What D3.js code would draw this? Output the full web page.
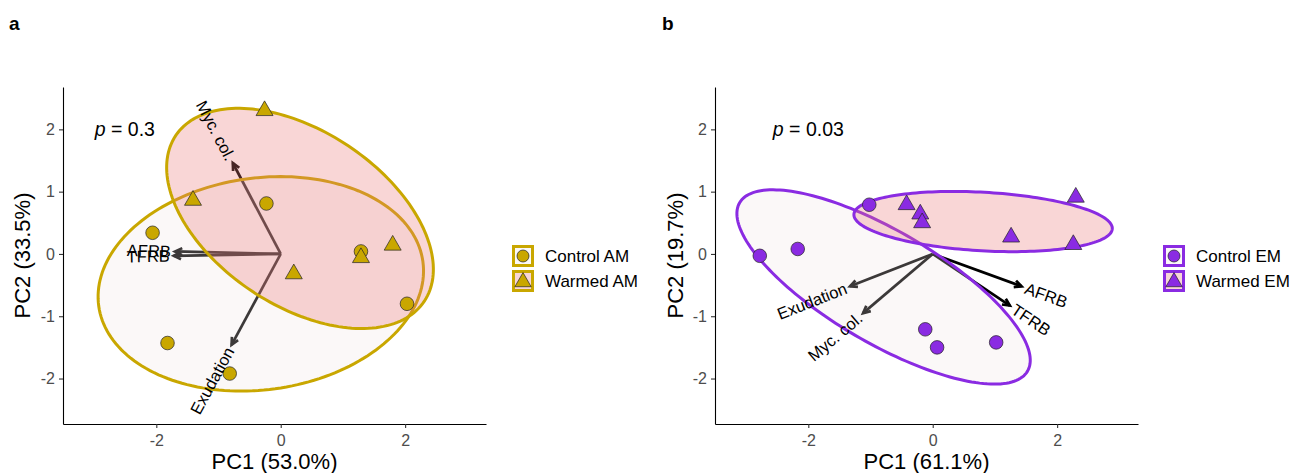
<!DOCTYPE html>
<html>
<head>
<meta charset="utf-8">
<script src="https://cdn.jsdelivr.net/npm/d3@7"></script>
<style>
  body { margin: 0; background: #fff; }
  svg { font-family: "Liberation Sans", Arial, sans-serif; }
</style>
</head>
<body>
<svg id="chart" width="1292" height="473"></svg>
<script>
// --- values ---
// panel a (AM)
var amControl = [[-2.06, 0.34], [-0.23, 0.81], [1.29, 0.04], [2.03, -0.80], [-1.82, -1.43], [-0.82, -1.92]];
var amWarmed = [[-0.26, 2.30], [-1.41, 0.86], [1.80, 0.14], [1.29, -0.06], [0.21, -0.32]];
var amLoadings = [
    {name: "Myc. col.", x: -0.77, y: 1.46},
    {name: "AFRB", x: -1.70, y: 0.04},
    {name: "TFRB", x: -1.72, y: -0.03},
    {name: "Exudation", x: -0.79, y: -1.46}
];
var amEllipses = [
    {group: "Control", cx: -0.32, cy: -0.48, rx: 2.63, ry: 1.70, angle: 7.8},
    {group: "Warmed", cx: 0.31, cy: 0.57, rx: 2.40, ry: 1.40, angle: -33.6}
];
var amLegend = ["Control AM", "Warmed AM"];

// panel b (EM)
var emControl = [[-1.02, 0.79], [-2.78, -0.03], [-2.17, 0.08], [-0.12, -1.21], [0.07, -1.50], [1.02, -1.42]];
var emWarmed = [[-0.42, 0.79], [-0.20, 0.64], [-0.17, 0.50], [1.26, 0.27], [2.30, 0.91], [2.26, 0.15]];
var emLoadings = [
    {name: "Exudation", x: -1.33, y: -0.52},
    {name: "Myc. col.", x: -1.12, y: -0.95},
    {name: "AFRB", x: 1.43, y: -0.52},
    {name: "TFRB", x: 1.24, y: -0.83}
];
var emEllipses = [
    {group: "Control", cx: -0.79, cy: -0.53, rx: 2.68, ry: 0.90, angle: -30.3},
    {group: "Warmed", cx: 0.81, cy: 0.52, rx: 2.08, ry: 0.47, angle: -3.2}
];
var emLegend = ["Control EM", "Warmed EM"];

var tickValues = [-2, 0, 2];
var yTickValues = [-2, -1, 0, 1, 2];
var xDomain = [-3.5, 3.3], yDomain = [-2.73, 2.68];

var panels = [
    {tag: "a", left: 63, right: 486, color: "#C9A700", control: amControl, warmed: amWarmed,
     loadings: amLoadings, ellipses: amEllipses, legend: amLegend, p: "0.3", pX: -2.99,
     xTitle: "PC1 (53.0%)", yTitle: "PC2 (33.5%)", tagX: 9, yTitleX: 30, legendX: 512},
    {tag: "b", left: 715, right: 1138, color: "#8A2BE2", control: emControl, warmed: emWarmed,
     loadings: emLoadings, ellipses: emEllipses, legend: emLegend, p: "0.03", pX: -2.57,
     xTitle: "PC1 (61.1%)", yTitle: "PC2 (19.7%)", tagX: 662, yTitleX: 683, legendX: 1163}
];

var plotTop = 87, plotBottom = 424;
var fills = {Control: {fill: "rgb(238,226,226)", op: 0.25, key: "#FBF8F8"},
             Warmed: {fill: "rgb(235,120,120)", op: 0.3, key: "#F7D6D6"}};
var svg = d3.select("#chart");

var ellipsePoints = function(e) {
    var a = e.angle * Math.PI / 180;
    return d3.range(0, 360, 2).map(function(d) {
        var t = d * Math.PI / 180;
        return [e.cx + e.rx * Math.cos(t) * Math.cos(a) - e.ry * Math.sin(t) * Math.sin(a),
                e.cy + e.rx * Math.cos(t) * Math.sin(a) + e.ry * Math.sin(t) * Math.cos(a)];
    });
};

panels.forEach(function(p) {
    var x = d3.scaleLinear().domain(xDomain).range([p.left, p.right]);
    var y = d3.scaleLinear().domain(yDomain).range([plotBottom, plotTop]);
    var g = svg.append("g");

    // loading arrows (black, later tinted by the ellipse fills)
    var arrows = g.append("g");
    p.loadings.forEach(function(d) {
        var x0 = x(0), y0 = y(0), x1 = x(d.x), y1 = y(d.y);
        var ang = Math.atan2(y1 - y0, x1 - x0), L = 8, w = 0.45;
        arrows.append("line")
            .attr("x1", x0).attr("y1", y0).attr("x2", x1).attr("y2", y1)
            .attr("stroke", "#000").attr("stroke-width", 2.7);
        arrows.append("path")
            .attr("d", "M" + (x1 - L * Math.cos(ang - w)) + "," + (y1 - L * Math.sin(ang - w)) +
                 "L" + x1 + "," + y1 +
                 "L" + (x1 - L * Math.cos(ang + w)) + "," + (y1 - L * Math.sin(ang + w)))
            .attr("fill", "none").attr("stroke", "#000").attr("stroke-width", 2.7)
            .attr("stroke-linejoin", "miter");
    });

    // ellipses
    var line = d3.line().x(function(d) { return x(d[0]); }).y(function(d) { return y(d[1]); })
        .curve(d3.curveLinearClosed);
    p.ellipses.forEach(function(e) {
        g.append("path")
            .attr("d", line(ellipsePoints(e)))
            .attr("fill", fills[e.group].fill).attr("fill-opacity", fills[e.group].op)
            .attr("stroke", p.color).attr("stroke-width", 3);
    });

    // points
    g.selectAll(".ctrl").data(p.control).enter().append("circle")
        .attr("cx", function(d) { return x(d[0]); })
        .attr("cy", function(d) { return y(d[1]); })
        .attr("r", 6.8)
        .attr("fill", p.color).attr("stroke", "#222").attr("stroke-width", 0.7);
    g.selectAll(".warm").data(p.warmed).enter().append("path")
        .attr("d", d3.symbol(d3.symbolTriangle, 125))
        .attr("transform", function(d) { return "translate(" + x(d[0]) + "," + y(d[1]) + ")"; })
        .attr("fill", p.color).attr("stroke", "#222").attr("stroke-width", 0.7);

    // loading labels
    p.loadings.forEach(function(d) {
        var rot = -Math.atan(d.y / d.x) * 180 / Math.PI;
        g.append("text")
            .attr("transform", "translate(" + x(d.x) + "," + y(d.y) + ") rotate(" + rot + ")")
            .attr("x", d.x < 0 ? -4 : 4)
            .attr("dy", "0.35em")
            .attr("text-anchor", d.x < 0 ? "end" : "start")
            .style("font-size", "16.5px")
            .text(d.name);
    });

    // p value
    var pt = g.append("text").attr("x", x(p.pX)).attr("y", y(2)).attr("dy", "0.36em")
        .style("font-size", "19.5px");
    pt.append("tspan").style("font-style", "italic").text("p");
    pt.append("tspan").text(" = " + p.p);

    // axes
    var xAxis = g.append("g").attr("transform", "translate(0," + plotBottom + ")")
        .call(d3.axisBottom(x).tickValues(tickValues).tickSize(4).tickSizeOuter(0).tickPadding(7)
            .tickFormat(d3.format("d")));
    var yAxis = g.append("g").attr("transform", "translate(" + p.left + ",0)")
        .call(d3.axisLeft(y).tickValues(yTickValues).tickSize(4).tickSizeOuter(0).tickPadding(4)
            .tickFormat(d3.format("d")));
    [xAxis, yAxis].forEach(function(ax) {
        ax.select(".domain").attr("stroke", "#000").attr("stroke-width", 1.1);
        ax.selectAll(".tick line").attr("stroke", "#333").attr("stroke-width", 1.1);
        ax.selectAll(".tick text").attr("fill", "#4D4D4D")
            .style("font-size", "16px").style("font-family", "Liberation Sans, Arial, sans-serif")
            .text(function(d) { return d < 0 ? "-" + Math.abs(d) : d; });
    });

    g.append("text").attr("x", (p.left + p.right) / 2).attr("y", 469)
        .attr("text-anchor", "middle").style("font-size", "22px").text(p.xTitle);
    g.append("text").attr("transform", "translate(" + p.yTitleX + "," + ((plotTop + plotBottom) / 2) + ") rotate(-90)")
        .attr("text-anchor", "middle").style("font-size", "22px").text(p.yTitle);

    // panel tag
    g.append("text").attr("x", p.tagX).attr("y", 30)
        .style("font-size", "19px").style("font-weight", "bold").text(p.tag);

    // legend
    var lg = g.append("g").attr("transform", "translate(" + p.legendX + ",245)");
    ["Control", "Warmed"].forEach(function(grp, i) {
        var ky = i * 25;
        lg.append("rect").attr("x", 1.5).attr("y", ky + 1.5).attr("width", 19).attr("height", 19)
            .attr("fill", fills[grp].key).attr("stroke", p.color).attr("stroke-width", 3);
        if (grp === "Control") {
            lg.append("circle").attr("cx", 11).attr("cy", ky + 11).attr("r", 6)
                .attr("fill", p.color).attr("stroke", "#222").attr("stroke-width", 0.7);
        } else {
            lg.append("path").attr("d", d3.symbol(d3.symbolTriangle, 115))
                .attr("transform", "translate(11," + (ky + 12) + ")")
                .attr("fill", p.color).attr("stroke", "#222").attr("stroke-width", 0.7);
        }
        lg.append("text").attr("x", 33).attr("y", ky + 11).attr("dy", "0.36em")
            .style("font-size", "17px").text(p.legend[i]);
    });
});
</script>
</body>
</html>
